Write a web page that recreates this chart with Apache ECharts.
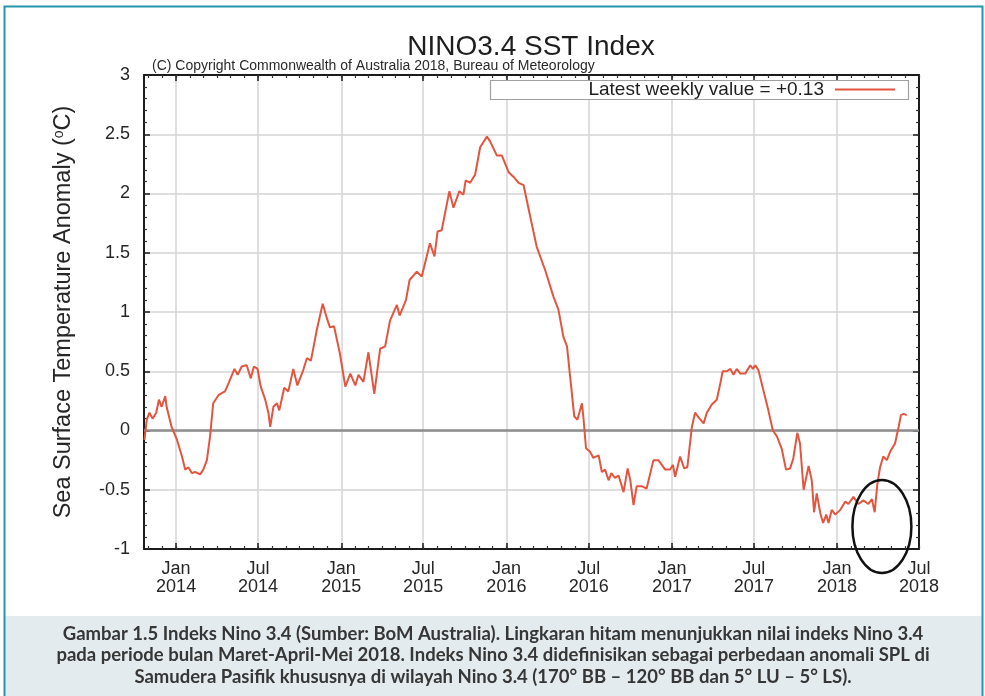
<!DOCTYPE html>
<html>
<head>
<meta charset="utf-8">
<title>NINO3.4 SST Index</title>
<script src="https://cdn.jsdelivr.net/npm/echarts@6/dist/echarts.min.js"></script>
<style>
  html, body { margin: 0; padding: 0; background: #ffffff; }
  #chart { width: 985px; height: 696px; }
</style>
</head>
<body>
<div id="chart"></div>
<script>
// Weekly NINO3.4 sea surface temperature anomaly (deg C)
const weekDates = [
  '2013-10-23','2013-10-28','2013-11-03','2013-11-10','2013-11-18','2013-11-24','2013-11-30','2013-12-08','2013-12-11','2013-12-22',
  '2014-01-03','2014-01-14','2014-01-21','2014-01-28','2014-02-05','2014-02-12','2014-02-23','2014-03-02','2014-03-10','2014-03-17',
  '2014-03-24','2014-04-05','2014-04-19','2014-04-27','2014-05-10','2014-05-17','2014-05-26','2014-06-06','2014-06-15','2014-06-22',
  '2014-06-30','2014-07-07','2014-07-17','2014-07-24','2014-07-28','2014-08-04','2014-08-12','2014-08-17','2014-08-28','2014-09-06',
  '2014-09-17','2014-09-26','2014-10-09','2014-10-17','2014-10-26','2014-11-08','2014-11-21','2014-11-30','2014-12-07','2014-12-16',
  '2014-12-29','2015-01-10','2015-01-21','2015-02-01','2015-02-08','2015-02-19','2015-03-02','2015-03-15','2015-03-28','2015-04-08',
  '2015-04-19','2015-05-04','2015-05-10','2015-05-24','2015-06-01','2015-06-17','2015-06-28','2015-07-16','2015-07-26','2015-08-02',
  '2015-08-11','2015-08-28','2015-09-06','2015-09-19','2015-09-28','2015-10-03','2015-10-13','2015-10-24','2015-11-04','2015-11-19',
  '2015-11-26','2015-12-11','2015-12-22','2016-01-06','2016-01-17','2016-01-28','2016-02-08','2016-02-23','2016-03-08','2016-03-27',
  '2016-04-14','2016-04-25','2016-05-06','2016-05-14','2016-05-21','2016-05-30','2016-06-06','2016-06-16','2016-06-19','2016-06-25',
  '2016-07-04','2016-07-11','2016-07-23','2016-07-30','2016-08-06','2016-08-14','2016-08-20','2016-08-28','2016-09-05','2016-09-16',
  '2016-09-25','2016-10-01','2016-10-08','2016-10-15','2016-10-26','2016-11-06','2016-11-21','2016-12-02','2016-12-17','2016-12-28',
  '2017-01-03','2017-01-08','2017-01-19','2017-01-28','2017-02-04','2017-02-14','2017-02-21','2017-03-03','2017-03-12','2017-03-19',
  '2017-03-30','2017-04-10','2017-04-18','2017-04-23','2017-05-02','2017-05-10','2017-05-17','2017-05-24','2017-06-01','2017-06-12',
  '2017-06-23','2017-06-29','2017-07-04','2017-07-11','2017-07-22','2017-08-02','2017-08-12','2017-08-21','2017-09-01','2017-09-10',
  '2017-09-19','2017-09-26','2017-10-05','2017-10-11','2017-10-19','2017-10-30','2017-11-06','2017-11-11','2017-11-17','2017-11-25',
  '2017-12-01','2017-12-08','2017-12-13','2017-12-20','2017-12-28','2018-01-08','2018-01-19','2018-01-26','2018-02-06','2018-02-17',
  '2018-02-28','2018-03-11','2018-03-19','2018-03-25','2018-03-31','2018-04-06','2018-04-13','2018-04-21','2018-04-28','2018-05-09',
  '2018-05-17','2018-05-22','2018-05-28','2018-06-04'
];
const sstAnomaly = [
  -0.08, 0.09, 0.15, 0.10, 0.15, 0.26, 0.20, 0.29, 0.20, 0.03,
  -0.08,-0.22,-0.33,-0.31,-0.36,-0.35,-0.37,-0.33,-0.25,-0.05,
   0.23, 0.30, 0.33, 0.40, 0.52, 0.47, 0.54, 0.55, 0.44, 0.54,
   0.52, 0.37, 0.26, 0.15, 0.03, 0.20, 0.23, 0.17, 0.36, 0.33,
   0.52, 0.38, 0.51, 0.61, 0.59, 0.85, 1.07, 0.95, 0.87, 0.88,
   0.65, 0.37, 0.48, 0.38, 0.47, 0.41, 0.66, 0.31, 0.69, 0.71,
   0.93, 1.06, 0.97, 1.10, 1.27, 1.34, 1.30, 1.58, 1.47, 1.68,
   1.69, 2.02, 1.88, 2.02, 1.99, 2.11, 2.09, 2.16, 2.39, 2.48,
   2.44, 2.32, 2.32, 2.18, 2.14, 2.09, 2.07, 1.80, 1.55, 1.35,
   1.13, 1.02, 0.79, 0.71, 0.45, 0.12, 0.09, 0.23, 0.12,-0.15,
  -0.18,-0.23,-0.21,-0.35,-0.33,-0.42,-0.36,-0.40,-0.38,-0.52,
  -0.32,-0.42,-0.63,-0.47,-0.47,-0.49,-0.25,-0.25,-0.33,-0.33,
  -0.29,-0.39,-0.22,-0.32,-0.31, 0.03, 0.15, 0.10, 0.06, 0.15,
   0.22, 0.26, 0.40, 0.50, 0.50, 0.52, 0.47, 0.52, 0.48, 0.48,
   0.55, 0.52, 0.55, 0.51, 0.34, 0.17, 0.00,-0.05,-0.16,-0.33,
  -0.32,-0.24,-0.02,-0.11,-0.50,-0.30,-0.42,-0.69,-0.53,-0.70,
  -0.78,-0.71,-0.78,-0.67,-0.71,-0.67,-0.60,-0.62,-0.56,-0.62,
  -0.59,-0.62,-0.58,-0.69,-0.45,-0.31,-0.22,-0.25,-0.18,-0.11,
   0.03, 0.13, 0.14, 0.13
];

// Axis ranges and labelled ticks
const xStart = '2013-10-22';
const xEnd = '2018-07-01';
const majorTickDates = [
  '2014-01-01','2014-07-01','2015-01-01','2015-07-01','2016-01-01',
  '2016-07-01','2017-01-01','2017-07-01','2018-01-01','2018-07-01'
];
const monthNames = ['Jan','Feb','Mar','Apr','May','Jun','Jul','Aug','Sep','Oct','Nov','Dec'];
const yMin = -1, yMax = 3, yStep = 0.5;

// Texts
const titleText = 'NINO3.4 SST Index';
const copyrightText = '(C) Copyright Commonwealth of Australia 2018, Bureau of Meteorology';
const legendLabel = 'Latest weekly value = +0.13';
const captionLines = [
  'Gambar 1.5 Indeks Nino 3.4 (Sumber: BoM Australia). Lingkaran hitam menunjukkan nilai indeks Nino 3.4',
  'pada periode bulan Maret-April-Mei 2018. Indeks Nino 3.4 didefinisikan sebagai perbedaan anomali SPL di',
  'Samudera Pasifik khususnya di wilayah Nino 3.4 (170\u00B0 BB \u2013 120\u00B0 BB dan 5\u00B0 LU \u2013 5\u00B0 LS).'
];

// Highlighted March-May 2018 period (centre of the ring)
const ringCentre = { date: '2018-04-10', value: -0.81 };

const ts = s => Date.parse(s + 'T00:00:00Z');
const xMinTs = ts(xStart), xMaxTs = ts(xEnd);
const majorTs = majorTickDates.map(ts);

// first day of every month inside the range, for the small ticks
const monthTs = [];
for (let y = 2013; y <= 2018; y++) {
  for (let m = 0; m < 12; m++) {
    const t = Date.UTC(y, m, 1);
    if (t > xMinTs && t <= xMaxTs) monthTs.push(t);
  }
}

const seriesData = weekDates.map((d, i) => [ts(d), sstAnomaly[i]]);

const FONT = 'Liberation Sans, Arial, sans-serif';
const INK = '#262626';
const RED = '#e4553f';
const GRID = '#d5d5d5';
const frameLine = { show: true, onZero: false, lineStyle: { color: '#1c1c1c', width: 2 } };

const chart = echarts.init(document.getElementById('chart'), null, { renderer: 'canvas' });

const option = {
  animation: false,
  backgroundColor: '#ffffff',
  title: {
    text: titleText,
    left: 531,
    top: 33,
    textAlign: 'center',
    padding: 0,
    textStyle: { fontFamily: FONT, fontSize: 28, fontWeight: 'normal', color: '#1e1e1e' }
  },
  legend: {
    data: [legendLabel],
    right: 90,
    top: 80,
    align: 'right',
    padding: 0,
    icon: 'rect',
    itemWidth: 60,
    itemHeight: 2,
    textStyle: { fontFamily: FONT, fontSize: 19, color: '#1e1e1e', padding: [0, 6, 0, 0] }
  },
  grid: { left: 144, right: 66, top: 75, bottom: 147 },
  xAxis: [
    {
      type: 'value', position: 'bottom', min: xMinTs, max: xMaxTs,
      axisLine: frameLine,
      axisTick: { show: true, inside: true, length: 6, customValues: majorTs, lineStyle: { color: '#1c1c1c', width: 1.5 } },
      axisLabel: {
        customValues: majorTs,
        margin: 11,
        fontFamily: FONT, fontSize: 18, lineHeight: 18, color: INK,
        formatter: v => { const d = new Date(v); return monthNames[d.getUTCMonth()] + '\n' + d.getUTCFullYear(); }
      },
      splitLine: { show: true, lineStyle: { color: GRID, width: 1.5 } }
    },
    {
      type: 'value', position: 'top', min: xMinTs, max: xMaxTs,
      axisLine: frameLine,
      axisTick: { show: true, inside: true, length: 6, customValues: majorTs, lineStyle: { color: '#1c1c1c', width: 1.5 } },
      axisLabel: { show: false },
      splitLine: { show: false }
    },
    {
      type: 'value', position: 'bottom', min: xMinTs, max: xMaxTs,
      axisLine: { show: false, onZero: false },
      axisTick: { show: true, inside: true, length: 3, customValues: monthTs, lineStyle: { color: '#333', width: 1.2 } },
      axisLabel: { show: false },
      splitLine: { show: false }
    },
    {
      type: 'value', position: 'top', min: xMinTs, max: xMaxTs,
      axisLine: { show: false, onZero: false },
      axisTick: { show: true, inside: true, length: 3, customValues: monthTs, lineStyle: { color: '#333', width: 1.2 } },
      axisLabel: { show: false },
      splitLine: { show: false }
    }
  ],
  yAxis: [
    {
      type: 'value', position: 'left', min: yMin, max: yMax, interval: yStep,
      axisLine: frameLine,
      axisTick: { show: true, inside: true, length: 6, lineStyle: { color: '#1c1c1c', width: 1.5 } },
      minorTick: { show: true, splitNumber: 5, length: 3, lineStyle: { color: '#333', width: 1.2 } },
      axisLabel: { margin: 14, fontFamily: FONT, fontSize: 18, color: INK },
      splitLine: { show: true, lineStyle: { color: GRID, width: 1.5 } },
      name: '{t|Sea Surface Temperature Anomaly (}{s|o}{t|C)}',
      nameLocation: 'middle',
      nameGap: 68,
      nameTextStyle: {
        rich: {
          t: { fontFamily: FONT, fontSize: 23.5, color: INK },
          s: { fontFamily: FONT, fontSize: 14, color: INK, verticalAlign: 'top' }
        }
      }
    },
    {
      type: 'value', position: 'right', min: yMin, max: yMax, interval: yStep,
      axisLine: frameLine,
      axisTick: { show: true, inside: true, length: 6, lineStyle: { color: '#1c1c1c', width: 1.5 } },
      minorTick: { show: true, splitNumber: 5, length: 3, lineStyle: { color: '#333', width: 1.2 } },
      axisLabel: { show: false },
      splitLine: { show: false }
    }
  ],
  series: [
    {
      // zero reference line
      type: 'line',
      name: 'zero',
      data: [[xMinTs, 0], [xMaxTs, 0]],
      symbol: 'none',
      silent: true,
      z: 1,
      lineStyle: { color: '#8e8e8e', width: 2.5 }
    },
    {
      type: 'line',
      name: legendLabel,
      data: seriesData,
      symbol: 'none',
      showSymbol: false,
      z: 3,
      itemStyle: { color: RED },
      lineStyle: { color: RED, width: 2 }
    }
  ],
  graphic: [
    {
      id: 'captionBg', type: 'rect', z: -1,
      shape: { x: 5, y: 616, width: 978, height: 82 },
      style: { fill: '#e4ebee' }
    },
    {
      id: 'frame', type: 'rect', z: 20,
      shape: { x: 4.5, y: 6.5, width: 978, height: 700 },
      style: { fill: 'none', stroke: '#2595ab', lineWidth: 2 }
    },
    {
      id: 'legendBox', type: 'rect', z: 1,
      shape: { x: 490.5, y: 80.5, width: 418, height: 19 },
      style: { fill: '#ffffff', stroke: '#a0a0a0', lineWidth: 1.2 }
    },
    {
      id: 'copyright', type: 'text', z: 5,
      style: { x: 152, y: 66, text: copyrightText, fill: '#2a2a2a', font: '14px ' + FONT, verticalAlign: 'middle' }
    },
    ...captionLines.map((line, i) => ({
      id: 'caption' + i, type: 'text', z: 5,
      style: {
        x: 493, y: 634 + i * 21.5, text: line, fill: '#363636',
        font: 'bold 18.5px Lato, "Open Sans", sans-serif', align: 'center', verticalAlign: 'middle'
      }
    }))
  ]
};

chart.setOption(option);

// ring around the March-May 2018 values, placed through the axis scales
const c = chart.convertToPixel({ xAxisIndex: 0, yAxisIndex: 0 }, [ts(ringCentre.date), ringCentre.value]);
chart.setOption({
  graphic: [{
    id: 'ring', type: 'ellipse', z: 10,
    shape: { cx: c[0], cy: c[1], rx: 29.5, ry: 46.5 },
    style: { fill: 'none', stroke: '#111111', lineWidth: 2.5 }
  }]
});
</script>
</body>
</html>
